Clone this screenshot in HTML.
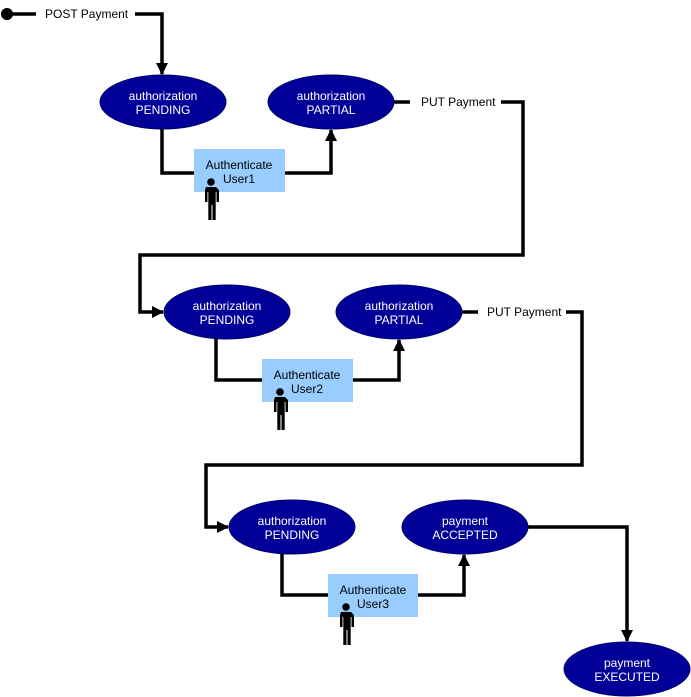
<!DOCTYPE html>
<html><head><style>
body{margin:0;background:#fff}
svg{display:block;font-family:"Liberation Sans",Arial,sans-serif}
.e{fill:#000099;stroke:#000066;stroke-width:1}
.t{fill:#fff;font-size:12px;text-anchor:middle}
.b{fill:#99ccff}
.bt{fill:#000;font-size:12px;text-anchor:middle}
.l{fill:none;stroke:#000;stroke-width:3.5}
.lb{font-size:12px;fill:#000}
</style></head><body>
<svg width="691" height="697" viewBox="0 0 691 697">
<defs>
<marker id="ah" markerWidth="12" markerHeight="12" refX="11" refY="6" orient="auto" markerUnits="userSpaceOnUse"><path d="M0,0L12,6L0,12z" fill="#000"/></marker>
<g id="p"><circle cx="0" cy="0" r="3.8"/><path d="M-5,5h10l3,3v12h-2.5v-10h-0.8v28h-3.2v-15h-1v15h-3.2v-28h-0.8v10h-2.5v-12z"/></g>
</defs>
<circle cx="7" cy="14" r="6"/>
<path class="l" d="M7,14H36"/>
<text class="lb" x="45" y="18">POST Payment</text>
<path class="l" d="M135,14H162V74" marker-end="url(#ah)"/>
<path class="l" d="M162,128V173H196"/>
<path class="l" d="M284,173H331V130" marker-end="url(#ah)"/>
<path class="l" d="M393,102H410"/>
<text class="lb" x="421" y="106">PUT Payment</text>
<path class="l" d="M501,102H523V255H140V312H163" marker-end="url(#ah)"/>
<path class="l" d="M216,338V380H264"/>
<path class="l" d="M352,380H399V340" marker-end="url(#ah)"/>
<path class="l" d="M461,312H478"/>
<text class="lb" x="487" y="316">PUT Payment</text>
<path class="l" d="M566,312H582V465H206V527H228" marker-end="url(#ah)"/>
<path class="l" d="M282,553V595H330"/>
<path class="l" d="M417,595H464V555" marker-end="url(#ah)"/>
<path class="l" d="M527,527H627V641" marker-end="url(#ah)"/>
<ellipse class="e" cx="163" cy="102" rx="63" ry="27"/>
<text class="t" x="163" y="100">authorization</text><text class="t" x="163" y="114">PENDING</text>
<ellipse class="e" cx="331" cy="102" rx="63" ry="27"/>
<text class="t" x="331" y="100">authorization</text><text class="t" x="331" y="114">PARTIAL</text>
<ellipse class="e" cx="227" cy="312" rx="63" ry="27"/>
<text class="t" x="227" y="310">authorization</text><text class="t" x="227" y="324">PENDING</text>
<ellipse class="e" cx="399" cy="312" rx="63" ry="27"/>
<text class="t" x="399" y="310">authorization</text><text class="t" x="399" y="324">PARTIAL</text>
<ellipse class="e" cx="292" cy="527" rx="63" ry="27"/>
<text class="t" x="292" y="525">authorization</text><text class="t" x="292" y="539">PENDING</text>
<ellipse class="e" cx="465" cy="527" rx="63" ry="27"/>
<text class="t" x="465" y="525">payment</text><text class="t" x="465" y="539">ACCEPTED</text>
<ellipse class="e" cx="627" cy="669" rx="63" ry="27"/>
<text class="t" x="627" y="667">payment</text><text class="t" x="627" y="681">EXECUTED</text>
<rect class="b" x="194" y="149" width="91" height="43"/>
<text class="bt" x="239" y="169">Authenticate</text><text class="bt" x="239" y="183">User1</text>
<use href="#p" x="211" y="182"/>
<rect class="b" x="262" y="359" width="91" height="43"/>
<text class="bt" x="307" y="379">Authenticate</text><text class="bt" x="307" y="393">User2</text>
<use href="#p" x="280" y="392"/>
<rect class="b" x="328" y="574" width="90" height="43"/>
<text class="bt" x="373" y="594">Authenticate</text><text class="bt" x="373" y="608">User3</text>
<use href="#p" x="346" y="607"/>
</svg>
</body></html>
